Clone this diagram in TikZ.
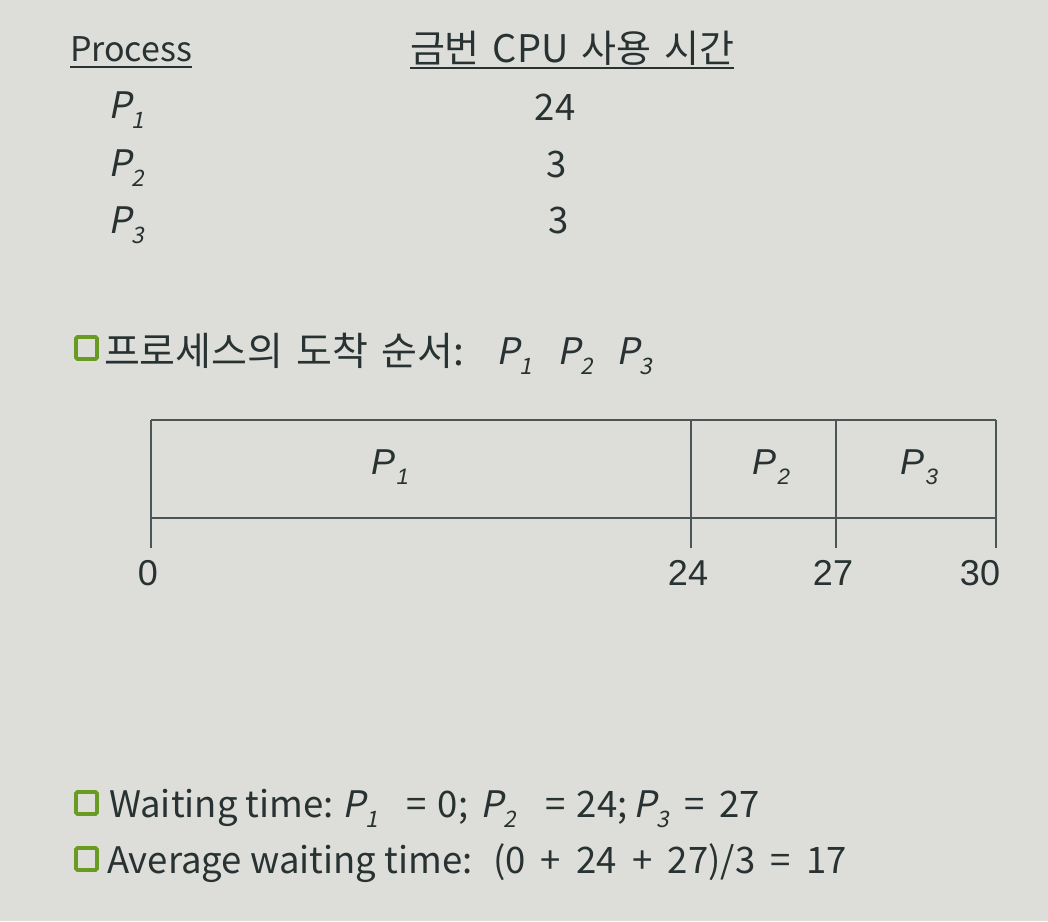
\documentclass[tikz,border=0pt]{standalone}
\usepackage{fontspec}
\usepackage{graphicx}
\newfontfamily\kr{Noto Sans CJK KR}
\newfontfamily\krit[FakeSlant=0.2]{Noto Sans CJK KR}
\newfontfamily\ar{Liberation Sans}
\newfontfamily\arit{Liberation Sans Italic}
\definecolor{bg}{RGB}{221,222,217}
\definecolor{ink}{RGB}{40,50,50}
\definecolor{lin}{RGB}{75,85,85}
\definecolor{grn}{RGB}{105,155,35}
\newcommand\Ps[1]{{\krit P\kern0.02em\raisebox{-0.28em}{\scalebox{0.62}{#1}}}}
\newcommand\Pg[1]{{\arit P\kern0.04em\raisebox{-0.3em}{\scalebox{0.62}{#1}}}}
\newcommand\gap{\hspace{0.42em}}
\newcommand\hgap{\hspace{0.34em}}
\newcommand\sgap{\hspace{0.32em}}
\tikzset{
  base/.style={inner sep=0pt, outer sep=0pt, text=ink},
  txt/.style={base, font=\fontsize{34}{40}\kr, anchor=base west},
  row/.style={base, font=\fontsize{36.5}{40}\kr, anchor=base west},
  hdr/.style={base, font=\fontsize{38}{40}\kr, anchor=base west},
  kor/.style={base, font=\fontsize{39}{40}\kr, anchor=base west},
  low/.style={base, font=\fontsize{36.5}{40}\kr, anchor=base west},
  num/.style={base, font=\fontsize{36.5}{40}\kr, anchor=base},
  gl/.style={base, font=\fontsize{36}{40}\ar, anchor=base},
  gline/.style={draw=lin, line width=1.3pt},
  uline/.style={draw=ink, line width=2pt},
  bul/.style={draw=grn, line width=3.8pt, rounded corners=1.5pt},
}
\begin{document}
\begin{tikzpicture}[x=1pt,y=-1pt]
\fill[bg] (0,0) rectangle (1048,921);
\useasboundingbox (0,0) rectangle (1048,921);
% header
\node[txt] (proc) at (70,61) {Process};
\node[hdr] (hd) at (410,62) {금번\hgap CPU\hgap 사용\hgap 시간};
\draw[uline] ([yshift=-6pt]proc.base west) -- ([yshift=-6pt]proc.base east);
\draw[uline] ([yshift=-6pt]hd.base west) -- ([yshift=-6pt]hd.base east);
% rows
\node[row] (r1) at (108,118) {\Ps{1}};
\node[row] (r2) at (108,176) {\Ps{2}};
\node[row] (r3) at (108,233) {\Ps{3}};
\node[num] (n1) at (555,120) {24};
\node[num] (n2) at (557,177) {3};
\node[num] (n3) at (559,233) {3};
% arrival order
\coordinate (b1a) at (76,337); \coordinate (b1b) at (97,359);
\draw[bul] (b1a) rectangle (b1b);
\node[kor] (o1) at (104,365) {프로세스의\hgap 도착\hgap 순서:};
\node[low] (o4) at (496,364) {\Ps{1}};
\node[low] (o5) at (557,364) {\Ps{2}};
\node[low] (o6) at (616,364) {\Ps{3}};
% gantt
\coordinate (g0t) at (151,420); \coordinate (g0b) at (151,548);
\coordinate (g1t) at (691,420); \coordinate (g1b) at (691,548);
\coordinate (g2t) at (836,420); \coordinate (g2b) at (836,548);
\coordinate (g3t) at (996,420); \coordinate (g3b) at (996,548);
\coordinate (gl) at (151,518); \coordinate (gr) at (996,518);
\draw[gline] (g0t) -- (g3t);
\draw[gline] (gl) -- (gr);
\draw[gline] (g0t) -- (g0b);
\draw[gline] (g1t) -- (g1b);
\draw[gline] (g2t) -- (g2b);
\draw[gline] (g3t) -- (g3b);
\node[gl] (gp1) at (390,474) {\Pg{1}};
\node[gl] (gp2) at (771,474) {\Pg{2}};
\node[gl] (gp3) at (919,474) {\Pg{3}};
\node[gl] (t0) at (148,585) {0};
\node[gl] (t24) at (688,585) {24};
\node[gl] (t27) at (833,585) {27};
\node[gl] (t30) at (980,585) {30};
% waiting
\coordinate (b2a) at (76,792); \coordinate (b2b) at (97,814);
\draw[bul] (b2a) rectangle (b2b);
\node[low] (w1) at (109,817) {Waiting time:};
\node[low] (w2) at (342,817) {\Ps{1}};
\node[low] (w3) at (406,817) {=\sgap0;};
\node[low] (w4) at (480,817) {\Ps{2}};
\node[low] (w5) at (545,817) {=\sgap24;};
\node[low] (w6) at (633,817) {\Ps{3}};
\node[low] (w7) at (684,817) {=\gap27};
\coordinate (b3a) at (76,848); \coordinate (b3b) at (97,870);
\draw[bul] (b3a) rectangle (b3b);
\node[low] (a1) at (107,873) {Average waiting time:};
\node[low] (a2) at (493,873) {(0\gap+\gap24\gap+\gap27)/3\gap=\gap17};
\end{tikzpicture}
\end{document}
